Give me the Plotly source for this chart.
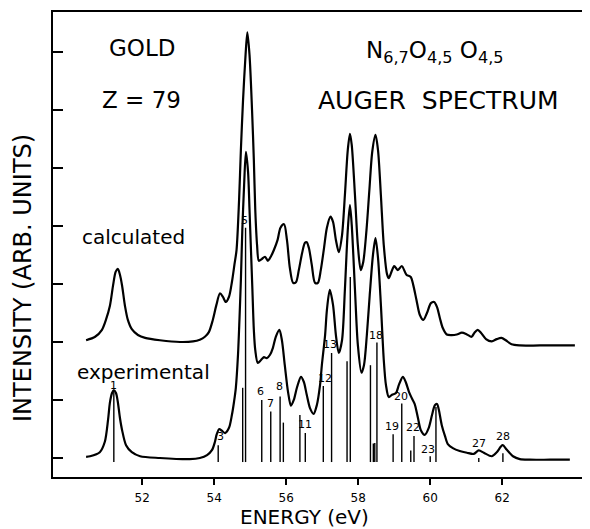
import plotly.graph_objects as go

# ---- data (energy in eV, intensity in arbitrary units) ----
exp_energy = [50.44, 50.55, 50.82, 50.96, 51.05, 51.10, 51.16, 51.21, 51.27, 51.32, 51.38, 51.44, 51.55, 51.71, 51.94,
              52.49, 53.32, 53.60, 53.80, 53.94, 54.02, 54.07, 54.14, 54.21, 54.30, 54.41, 54.49, 54.55, 54.60, 54.66,
              54.70, 54.74, 54.78, 54.83, 54.88, 54.94, 54.98, 55.02, 55.06, 55.10, 55.14, 55.21, 55.30, 55.38, 55.46,
              55.55, 55.63, 55.71, 55.81, 55.88, 55.96, 56.05, 56.13, 56.21, 56.30, 56.41, 56.49, 56.57, 56.66, 56.76,
              56.85, 56.94, 56.99, 57.08, 57.13, 57.21, 57.30, 57.38, 57.46, 57.55, 57.63, 57.71, 57.77, 57.82, 57.91,
              57.99, 58.09, 58.16, 58.24, 58.32, 58.41, 58.48, 58.55, 58.63, 58.71, 58.77, 58.85, 58.94, 59.05, 59.13,
              59.24, 59.32, 59.41, 59.49, 59.57, 59.66, 59.74, 59.85, 59.96, 60.05, 60.13, 60.19, 60.24, 60.32, 60.41,
              60.49, 60.63, 60.82, 61.02, 61.21, 61.35, 61.49, 61.71, 61.85, 62.01, 62.13, 62.30, 62.49, 62.77, 63.33,
              63.88]
exp_intensity = [0.02, 0.03, 0.10, 0.28, 0.66, 0.95, 1.12, 1.17, 1.12, 0.97, 0.69, 0.48, 0.22, 0.10, 0.03,
                 0.00, -0.02, 0.00, 0.05, 0.14, 0.28, 0.41, 0.50, 0.47, 0.43, 0.52, 0.74, 0.97, 1.21, 1.78,
                 2.38, 3.07, 3.93, 4.71, 5.28, 4.93, 4.28, 3.59, 2.90, 2.21, 1.86, 1.64, 1.69, 1.74, 1.72,
                 1.78, 1.90, 2.09, 2.21, 2.03, 1.60, 1.14, 0.90, 1.00, 1.22, 1.40, 1.31, 1.09, 0.86, 0.76,
                 0.91, 1.26, 1.60, 2.12, 2.55, 2.90, 2.64, 2.12, 1.81, 2.03, 2.90, 3.93, 4.36, 4.02, 2.90,
                 1.95, 1.47, 1.60, 2.12, 2.81, 3.50, 3.79, 3.45, 2.64, 1.69, 1.26, 1.05, 1.09, 1.12, 1.26,
                 1.40, 1.31, 1.14, 1.03, 0.93, 0.69, 0.48, 0.40, 0.52, 0.74, 0.91, 0.93, 0.83, 0.57, 0.38,
                 0.24, 0.17, 0.12, 0.09, 0.07, 0.13, 0.09, 0.03, 0.10, 0.22, 0.14, 0.03, -0.02, -0.03, -0.03,
                 -0.03]

calc_energy = [50.44, 50.69, 50.88, 50.99, 51.10, 51.19, 51.26, 51.32, 51.38, 51.44, 51.52, 51.60, 51.71, 51.88, 52.08,
               52.49, 53.05, 53.41, 53.60, 53.74, 53.85, 53.96, 54.06, 54.16, 54.24, 54.32, 54.41, 54.49, 54.56, 54.62,
               54.69, 54.74, 54.80, 54.87, 54.92, 54.98, 55.05, 55.10, 55.14, 55.19, 55.24, 55.32, 55.41, 55.49, 55.57,
               55.66, 55.76, 55.84, 55.94, 56.02, 56.10, 56.19, 56.27, 56.35, 56.44, 56.52, 56.57, 56.63, 56.71, 56.80,
               56.88, 56.96, 57.05, 57.13, 57.23, 57.30, 57.38, 57.46, 57.55, 57.63, 57.71, 57.77, 57.82, 57.91, 57.99,
               58.07, 58.14, 58.23, 58.31, 58.39, 58.48, 58.55, 58.63, 58.71, 58.80, 58.85, 58.93, 59.00, 59.10, 59.21,
               59.34, 59.46, 59.53, 59.62, 59.71, 59.81, 59.91, 60.02, 60.11, 60.19, 60.27, 60.35, 60.46, 60.60, 60.74,
               60.88, 61.02, 61.15, 61.23, 61.32, 61.41, 61.55, 61.71, 61.85, 61.98, 62.10, 62.26, 62.49, 63.05, 64.02]
calc_intensity = [2.03, 2.09, 2.21, 2.38, 2.62, 2.98, 3.21, 3.26, 3.16, 2.97, 2.62, 2.38, 2.22, 2.12, 2.07,
                  2.03, 2.00, 2.01, 2.04, 2.09, 2.17, 2.38, 2.64, 2.84, 2.78, 2.69, 2.78, 3.03, 3.33, 3.59,
                  4.45, 5.31, 6.17, 6.95, 7.34, 6.95, 6.00, 5.14, 4.28, 3.67, 3.40, 3.43, 3.47, 3.40, 3.47,
                  3.59, 3.76, 3.97, 4.03, 3.76, 3.28, 3.02, 3.03, 3.24, 3.53, 3.71, 3.72, 3.62, 3.33, 3.02,
                  3.02, 3.24, 3.62, 3.97, 4.16, 4.07, 3.76, 3.55, 3.84, 4.53, 5.31, 5.59, 5.40, 4.53, 3.67,
                  3.24, 3.38, 3.93, 4.62, 5.28, 5.57, 5.31, 4.53, 3.67, 3.17, 3.10, 3.22, 3.31, 3.24, 3.31,
                  3.16, 3.12, 2.98, 2.72, 2.47, 2.38, 2.50, 2.67, 2.69, 2.60, 2.41, 2.24, 2.13, 2.12, 2.13,
                  2.16, 2.13, 2.09, 2.16, 2.21, 2.16, 2.05, 2.01, 2.05, 2.07, 2.03, 1.96, 1.94, 1.94, 1.94]

# Auger line positions and intensities (stick spectrum)
line_energy = [51.21, 54.11, 54.79, 54.87, 55.32, 55.57, 55.83, 55.92, 56.38, 56.53, 57.03, 57.26, 57.69,
               57.78, 58.34, 58.42, 58.46, 58.52, 58.97, 59.21, 59.46, 59.55, 60.00, 60.16, 61.35, 62.02]
line_intensity = [1.17, 0.22, 1.21, 3.97, 1.00, 0.80, 1.06, 0.61, 0.74, 0.43, 1.24, 1.81, 1.67,
                  3.12, 1.60, 0.25, 0.26, 1.99, 0.41, 0.94, 0.13, 0.38, 0.03, 0.88, 0.00, 0.08]
line_base = -0.07

line_labels = ["1", "3", "5", "6", "7", "8", "11", "12", "13", "18", "19", "20", "22", "23", "27", "28"]
label_energy = [51.21, 54.18, 54.83, 55.29, 55.57, 55.81, 56.53, 57.08, 57.21, 58.49, 58.94, 59.20, 59.53,
                59.94, 61.36, 62.02]
label_height = [1.25, 0.37, 4.09, 1.14, 0.94, 1.23, 0.57, 1.37, 1.96, 2.12, 0.54, 1.06, 0.52, 0.15, 0.25, 0.37]

x_ticks = [52, 54, 56, 58, 60, 62]
x_tick_labels = ["52", "54", "56", "58", "60", "62"]
y_ticks = [0, 1, 2, 3, 4, 5, 6, 7]

FONT = "DejaVu Sans"

fig = go.Figure()

# stick lines
sx, sy = [], []
for e, h in zip(line_energy, line_intensity):
    sx += [e, e, None]
    sy += [line_base, h, None]
fig.add_trace(go.Scatter(x=sx, y=sy, mode="lines", line=dict(color="black", width=1.4),
                         hoverinfo="skip"))

fig.add_trace(go.Scatter(x=calc_energy, y=calc_intensity, mode="lines",
                         line=dict(color="black", width=2.2, shape="spline", smoothing=0.8)))
fig.add_trace(go.Scatter(x=exp_energy, y=exp_intensity, mode="lines",
                         line=dict(color="black", width=2.2, shape="spline", smoothing=0.8)))

annotations = []
for t, e, h in zip(line_labels, label_energy, label_height):
    annotations.append(dict(x=e, y=h, xref="x", yref="y", text=t, showarrow=False,
                            xanchor="center", yanchor="middle",
                            font=dict(family=FONT, size=11, color="black")))

big = dict(family=FONT, size=23, color="black")
annotations += [
    dict(x=51.98, y=7.07, xref="x", yref="y", text="GOLD", showarrow=False, font=big,
         xanchor="center", yanchor="middle"),
    dict(x=51.99, y=6.17, xref="x", yref="y", text="Z = 79", showarrow=False, font=big,
         xanchor="center", yanchor="middle"),
    dict(x=60.13, y=7.00, xref="x", yref="y",
         text="N<sub>6,7</sub>O<sub>4,5</sub> O<sub>4,5</sub>", showarrow=False, font=big,
         xanchor="center", yanchor="middle"),
    dict(x=60.24, y=6.17, xref="x", yref="y", text="AUGER  SPECTRUM", showarrow=False,
         xanchor="center", yanchor="middle",
         font=dict(family=FONT, size=25, color="black")),
    dict(x=50.27, y=3.81, xref="x", yref="y", text="calculated", showarrow=False, xanchor="left",
         yanchor="middle", font=dict(family=FONT, size=20, color="black")),
    dict(x=50.13, y=1.48, xref="x", yref="y", text="experimental", showarrow=False, xanchor="left",
         yanchor="middle", font=dict(family=FONT, size=20, color="black")),
    dict(x=0.469, y=-0.087, xref="paper", yref="paper", text="ENERGY (eV)", showarrow=False,
         xanchor="center", yanchor="middle",
         font=dict(family=FONT, size=20, color="black")),
    dict(x=-0.0559, y=0.428, xref="paper", yref="paper", text="INTENSITY (ARB. UNITS)",
         showarrow=False, textangle=-90, xanchor="center", yanchor="middle",
         font=dict(family=FONT, size=24, color="black")),
]

# the page body adds an 8 px offset, so the figure is 8 px smaller and margins compensate
fig.update_layout(
    width=582, height=521,
    margin=dict(l=45, r=0, t=4, b=52, autoexpand=False),
    plot_bgcolor="white", paper_bgcolor="white",
    showlegend=False,
    annotations=annotations,
    xaxis=dict(range=[49.52, 64.44], tickvals=x_ticks, ticktext=x_tick_labels,
               ticks="outside", ticklen=6, tickwidth=1.5, tickcolor="black",
               showline=True, linewidth=2, linecolor="black", mirror=True,
               showgrid=False, zeroline=False, ticklabelstandoff=3, automargin=False,
               tickfont=dict(family=FONT, size=12, color="black")),
    yaxis=dict(range=[-0.328, 7.69], tickvals=y_ticks, showticklabels=False,
               ticks="inside", ticklen=10, tickwidth=1.5, tickcolor="black",
               showline=True, linewidth=2, linecolor="black", mirror=False,
               showgrid=False, zeroline=False, automargin=False),
)

fig.write_html("out.html")
